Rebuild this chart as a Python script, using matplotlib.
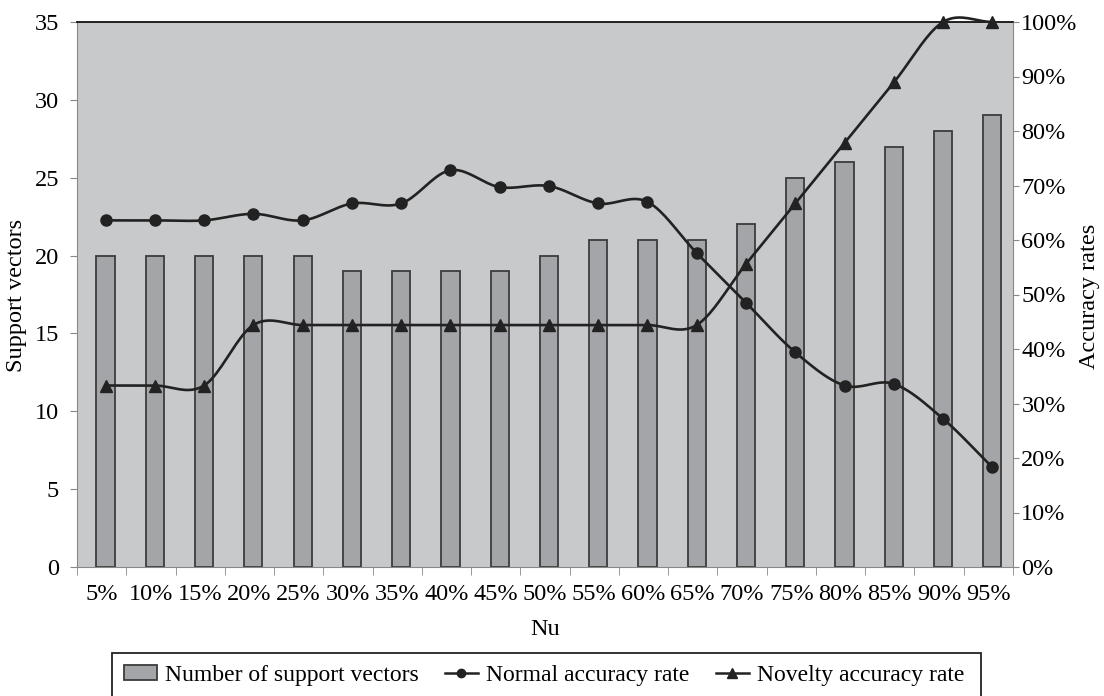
import matplotlib
matplotlib.use("Agg")
import matplotlib.pyplot as plt
import numpy as np
from matplotlib.ticker import FuncFormatter, MultipleLocator
from matplotlib.patches import Rectangle

plt.rcParams['font.family'] = ['Liberation Serif', 'DejaVu Serif']

nu = ['5%', '10%', '15%', '20%', '25%', '30%', '35%', '40%', '45%', '50%',
      '55%', '60%', '65%', '70%', '75%', '80%', '85%', '90%', '95%']
support_vectors = [20, 20, 20, 20, 20, 19, 19, 19, 19, 20,
                   21, 21, 21, 22, 25, 26, 27, 28, 29]
normal_rate = [63.6, 63.6, 63.6, 64.8, 63.6, 66.7, 66.7, 72.8, 69.7, 69.9,
               66.7, 67.0, 57.6, 48.5, 39.4, 33.3, 33.6, 27.2, 18.3]
novelty_rate = [33.3, 33.3, 33.3, 44.4, 44.4, 44.4, 44.4, 44.4, 44.4, 44.4,
                44.4, 44.4, 44.4, 55.6, 66.7, 77.8, 88.9, 100.0, 100.0]


def smooth(x, y, n=20):
    # catmull-rom curve through the points, like excel "smoothed line"
    x = np.asarray(x, float)
    y = np.asarray(y, float)
    px = np.concatenate([[2 * x[0] - x[1]], x, [2 * x[-1] - x[-2]]])
    py = np.concatenate([[2 * y[0] - y[1]], y, [2 * y[-1] - y[-2]]])
    t = np.linspace(0, 1, n, endpoint=False)
    xs, ys = [], []
    for i in range(1, len(px) - 2):
        for p, out in ((px, xs), (py, ys)):
            p0, p1, p2, p3 = p[i - 1], p[i], p[i + 1], p[i + 2]
            out.append(0.5 * (2 * p1 + (-p0 + p2) * t + (2 * p0 - 5 * p1 + 4 * p2 - p3) * t ** 2
                              + (-p0 + 3 * p1 - 3 * p2 + p3) * t ** 3))
    xs.append([x[-1]])
    ys.append([y[-1]])
    return np.concatenate(xs), np.concatenate(ys)


W, H = 1104, 696
fig = plt.figure(figsize=(W / 100, H / 100), dpi=100)
ax = fig.add_axes([77 / W, 1 - 567 / H, (1013 - 77) / W, (567 - 22) / H])
ax.set_facecolor('#c8c9cb')

fs = 17.5
x = np.arange(len(nu))
bars = ax.bar(x + 0.08, support_vectors, width=0.37, color='#a4a5a8',
              edgecolor='#3c3c3c', linewidth=1.3, label='Number of support vectors', zorder=2)
ax.set_xlim(-0.5, len(nu) - 0.5)
ax.set_ylim(0, 35)
ax.yaxis.set_major_locator(MultipleLocator(5))
ax.set_xticks(x)
ax.set_xticklabels(nu)
ax.set_xticks(np.arange(-0.5, len(nu), 1), minor=True)
ax.tick_params(axis='x', which='major', length=0, pad=12, labelsize=fs)
ax.tick_params(axis='x', which='minor', length=6, color='#888888')
ax.tick_params(axis='y', length=5, color='#888888', labelsize=fs, pad=8)
ax.set_xlabel('Nu', fontsize=fs, labelpad=10)
for s in ['left', 'bottom', 'right']:
    ax.spines[s].set_color('#888888')
ax.spines['top'].set_color('#111111')
ax.spines['top'].set_linewidth(1.3)

ax2 = ax.twinx()
ax2.set_ylim(0, 100)
ax2.yaxis.set_major_locator(MultipleLocator(10))
ax2.yaxis.set_major_formatter(FuncFormatter(lambda v, p: '%d%%' % v))
ax2.tick_params(axis='y', length=4, color='#888888', labelsize=fs, pad=2)
for s in ax2.spines.values():
    s.set_visible(False)

fig.text(17 / W, 1 - 295 / H, 'Support vectors', rotation=90, fontsize=17.5,
         ha='center', va='center')
fig.text(1089 / W, 1 - 296 / H, 'Accuracy rates', rotation=90, fontsize=17.5,
         ha='center', va='center')

xn = x + 0.08
sx, sy = smooth(xn, normal_rate)
ax2.plot(sx, sy, color='#222222', lw=1.9, zorder=3, clip_on=False)
ax2.plot(xn, normal_rate, 'o', color='#222222', ms=8, zorder=4, clip_on=False)
sx, sy = smooth(xn, novelty_rate)
ax2.plot(sx, sy, color='#222222', lw=1.9, zorder=3, clip_on=False)
ax2.plot(xn, novelty_rate, '^', color='#222222', ms=9, zorder=4, clip_on=False)

h_norm, = ax2.plot([], [], '-o', color='#222222', lw=1.8, ms=6)
h_nov, = ax2.plot([], [], '-^', color='#222222', lw=1.8, ms=7)
leg = fig.legend([bars, h_norm, h_nov],
                 ['Number of support vectors', 'Normal accuracy rate', 'Novelty accuracy rate'],
                 loc='upper left', bbox_to_anchor=(112 / W, 1 - 653 / H), ncol=3, fontsize=17,
                 frameon=False, borderpad=0.5, borderaxespad=0,
                 columnspacing=1.1, handlelength=1.4, handleheight=0.6, handletextpad=0.35)
fig.add_artist(Rectangle((112 / W, -0.02), (981 - 112) / W, (H - 653) / H + 0.02,
                         transform=fig.transFigure, fill=False, edgecolor='#222222',
                         linewidth=1.3, clip_on=False))

fig.savefig('out.png', dpi=100)
